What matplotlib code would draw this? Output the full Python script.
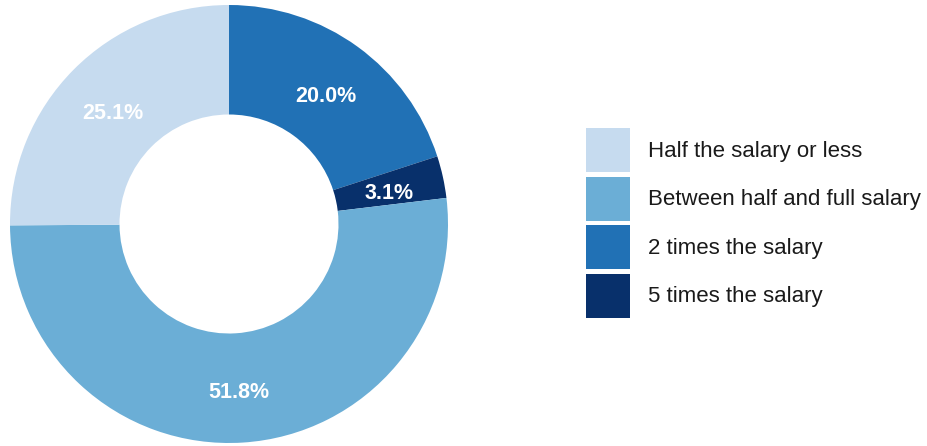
import matplotlib
matplotlib.use("Agg")
import matplotlib.pyplot as plt
from matplotlib.patches import Rectangle
from matplotlib.transforms import offset_copy

plt.rcParams['font.family'] = ['Liberation Sans', 'DejaVu Sans']

categories = ["Half the salary or less", "Between half and full salary",
              "2 times the salary", "5 times the salary"]
values = [25.1, 51.8, 20.0, 3.1]
colors = ["#c6dbef", "#6baed6", "#2171b5", "#08306b"]

# clockwise draw order from top
order = [2, 3, 1, 0]

W, H = 927, 446
fig = plt.figure(figsize=(W / 100, H / 100), dpi=100)
cx, cy, r = 229, 222, 219
ax = fig.add_axes([(cx - r) / W, (cy - r) / H, 2 * r / W, 2 * r / H])

wedges, texts = ax.pie([values[i] for i in order],
                       colors=[colors[i] for i in order],
                       startangle=90, counterclock=False,
                       labels=[f"{values[i]:.1f}%" for i in order],
                       labeldistance=0.75,
                       wedgeprops=dict(width=0.5, linewidth=0),
                       textprops=dict(color='white', fontsize=15.5, fontweight='bold'))
for t in texts:
    t.set_ha('center')
    t.set_va('center_baseline')
    t.set_transform(offset_copy(t.get_transform(), fig=fig, x=0, y=-2.5, units='dots'))
ax.set_xlim(-1, 1)
ax.set_ylim(-1, 1)
ax.set_aspect('equal')
ax.axis('off')

fs = 16
fpx = fs * 100 / 72
hh = (44 / fpx - 0.245) / 0.65
handles = [Rectangle((0, 0), 1, 1, facecolor=c, edgecolor='none') for c in colors]
leg = fig.legend(handles, categories, loc='upper left',
                 bbox_to_anchor=(586 / W, 1 - 128 / H),
                 frameon=False, fontsize=fs, borderpad=0, borderaxespad=0,
                 handlelength=44 / fpx, handleheight=hh, labelspacing=4.5 / fpx,
                 handletextpad=18 / fpx)
for t in leg.get_texts():
    t.set_color('#1a1a1a')

fig.savefig("out.png", dpi=100)
